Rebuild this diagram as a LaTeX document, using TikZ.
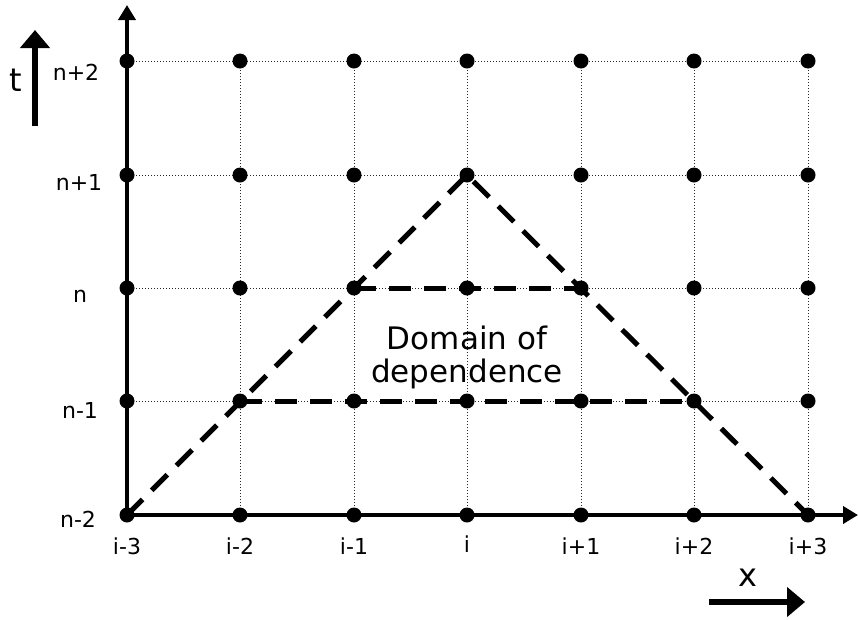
\documentclass[tikz,border=0pt]{standalone}
\usepackage{fontspec}
\setmainfont{DejaVu Sans}
\usetikzlibrary{arrows.meta}
\begin{document}
\begin{tikzpicture}[x=1pt,y=-1pt,
  gridline/.style={line width=1pt, black!85, dash pattern=on 1.2pt off 1.8pt},
  axisline/.style={line width=4.5pt, -{Triangle[length=15pt,width=17pt]}},
  bigarrow/.style={line width=6pt, -{Triangle[length=18pt,width=29pt]}},
  domline/.style={line width=5pt, dash pattern=on 22pt off 13pt},
  ticklabel/.style={font=\fontsize{22}{26}\selectfont, inner sep=0pt},
  axislabel/.style={font=\fontsize{32}{36}\selectfont, inner sep=0pt},
  domtext/.style={font=\fontsize{31}{33}\selectfont, align=center, inner sep=0pt},
  dot/.style={circle, fill=black, inner sep=0pt, minimum size=15pt}]
\useasboundingbox (0,0) rectangle (858,619);
\foreach \i/\x in {0/127,1/240,2/354,3/467,4/581,5/694,6/808}{
  \foreach \j/\y in {0/515,1/401,2/288,3/175,4/61}{
    \coordinate (p\i\j) at (\x,\y);
  }}
% grid
\foreach \j in {1,2,3,4}{ \draw[gridline] (p0\j) -- (p6\j); }
\foreach \i in {1,2,3,4,5,6}{ \draw[gridline] (p\i0) -- (p\i4); }
% domain of dependence
\draw[domline] (p00) -- (p33) -- (p60);
\draw[domline] (p22) -- (p42);
\draw[domline] (p11) -- (p51);
% axes
\coordinate (ytip) at (127,5);
\coordinate (xtip) at (858,515);
\draw[axisline] (p00) -- (ytip);
\draw[axisline] (p00) -- (xtip);
% dots
\foreach \i in {0,...,6}{
  \foreach \j in {0,...,4}{
    \node[dot] (d\i\j) at (p\i\j) {};
  }}
% tick labels
\node[ticklabel] (ln0) at (78,519) {n-2};
\node[ticklabel] (ln1) at (80,410) {n-1};
\node[ticklabel] (ln2) at (80,296) {n};
\node[ticklabel] (ln3) at (79,182) {n+1};
\node[ticklabel] (ln4) at (76,72) {n+2};
\node[ticklabel] (li0) at (127,546) {i-3};
\node[ticklabel] (li1) at (240,546) {i-2};
\node[ticklabel] (li2) at (354,546) {i-1};
\node[ticklabel] (li3) at (467,544) {i};
\node[ticklabel] (li4) at (581,546) {i+1};
\node[ticklabel] (li5) at (694,546) {i+2};
\node[ticklabel] (li6) at (808,546) {i+3};
% axis direction arrows
\coordinate (ta) at (35,126);
\coordinate (tb) at (35,30);
\draw[bigarrow] (ta) -- (tb);
\node[axislabel] (tl) at (16,80) {t};
\coordinate (xa) at (709,602);
\coordinate (xb) at (805,602);
\draw[bigarrow] (xa) -- (xb);
\node[axislabel] (xl) at (748,578) {x};
% domain text
\node[domtext] (dom) at (467,357) {Domain of\\dependence};
\end{tikzpicture}
\end{document}
